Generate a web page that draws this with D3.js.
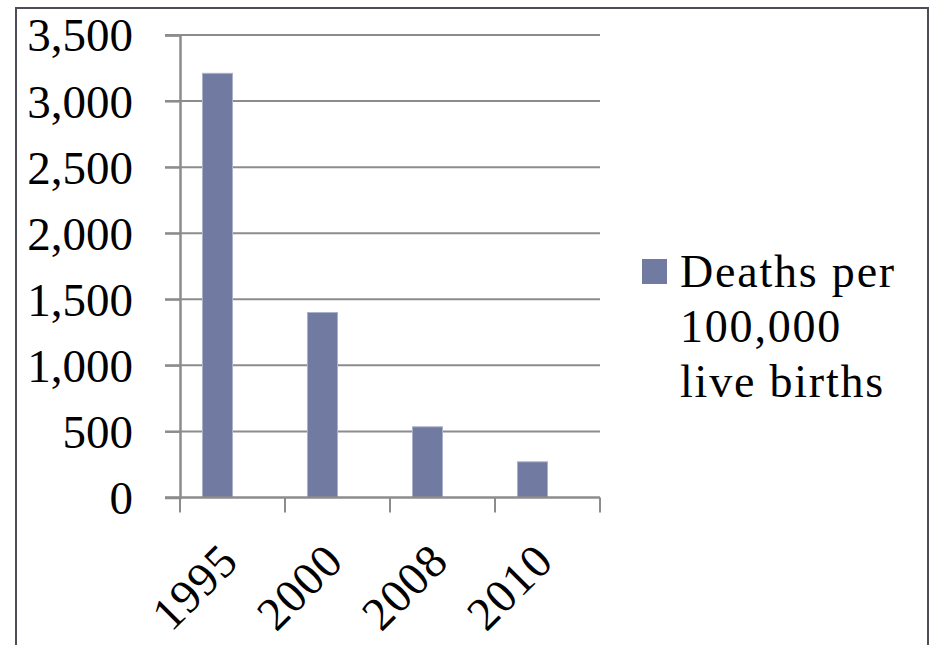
<!DOCTYPE html>
<html>
<head>
<meta charset="utf-8">
<script src="https://cdn.jsdelivr.net/npm/d3@7"></script>
<style>
  html, body { margin: 0; padding: 0; background: #ffffff; }
  svg { display: block; }
  text { font-family: "Liberation Serif", "DejaVu Serif", serif; fill: #000; }
</style>
</head>
<body>
<svg id="chart" width="930" height="645"></svg>
<script>
const categories = ["1995", "2000", "2008", "2010"];
const seriesName = ["Deaths per", "100,000", "live births"];
const values = [3210, 1400, 535, 270];
const yTicks = [0, 500, 1000, 1500, 2000, 2500, 3000, 3500];

const svg = d3.select("#chart");

// outer frame
svg.append("rect")
  .attr("x", 16).attr("y", 8)
  .attr("width", 912).attr("height", 700)
  .attr("fill", "#fff")
  .attr("stroke", "#4d4d57").attr("stroke-width", 2);

const plot = { left: 180, right: 600, top: 35, bottom: 497.5 };

const x = d3.scaleBand().domain(categories).range([plot.left, plot.right]).paddingInner(0).paddingOuter(0);
const y = d3.scaleLinear().domain([0, 3500]).range([plot.bottom, plot.top]);

// gridlines
svg.append("g").selectAll("line").data(yTicks.filter(d => d > 0)).join("line")
  .attr("x1", plot.left - 15).attr("x2", plot.right)
  .attr("y1", d => y(d)).attr("y2", d => y(d))
  .attr("stroke", "#8c8c8c").attr("stroke-width", 2);

// y axis
const yAxis = svg.append("g").attr("transform", `translate(${plot.left},0)`)
  .call(d3.axisLeft(y).tickValues(yTicks).tickFormat(d3.format(",")).tickSize(15).tickPadding(32));
yAxis.select(".domain").attr("stroke", "#8c8c8c").attr("stroke-width", 2.5);
yAxis.selectAll(".tick line").attr("stroke", "#8c8c8c").attr("stroke-width", 2);
yAxis.selectAll(".tick text").attr("font-size", 47).attr("font-family", "Liberation Serif").attr("fill", "#000").attr("dy", "0.34em");

// bars
const bw = x.bandwidth();
svg.append("g").selectAll("rect").data(categories).join("rect")
  .attr("x", (d) => x(d) + bw * 0.214)
  .attr("width", bw * 0.286)
  .attr("y", (d, i) => y(values[i]))
  .attr("height", (d, i) => y(0) - y(values[i]))
  .attr("fill", "#717ba2")
  .attr("stroke", "#aab1cb").attr("stroke-width", 1);

// x axis
const xAxis = svg.append("g").attr("transform", `translate(0,${plot.bottom})`)
  .call(d3.axisBottom(x).tickSize(0).tickPadding(0));
xAxis.select(".domain").remove();
xAxis.selectAll(".tick text")
  .attr("font-size", 47).attr("font-family", "Liberation Serif").attr("fill", "#000")
  .attr("letter-spacing", 1)
  .attr("text-anchor", "end")
  .attr("dy", null).attr("y", null)
  .attr("transform", "translate(8,66) rotate(-45)");
const edges = categories.map(c => x(c)).concat([plot.right]);
svg.append("g").selectAll("line").data(edges).join("line")
  .attr("x1", d => d).attr("x2", d => d)
  .attr("y1", plot.bottom).attr("y2", plot.bottom + 15)
  .attr("stroke", "#8c8c8c").attr("stroke-width", 2);
svg.append("line")
  .attr("x1", plot.left - 15).attr("x2", plot.right)
  .attr("y1", plot.bottom).attr("y2", plot.bottom)
  .attr("stroke", "#8c8c8c").attr("stroke-width", 2.5);

// legend
const lg = svg.append("g");
lg.append("rect").attr("x", 642).attr("y", 259).attr("width", 25).attr("height", 25).attr("fill", "#717ba2");
lg.append("text").attr("font-size", 46).attr("font-family", "Liberation Serif")
  .attr("letter-spacing", 1.8)
  .selectAll("tspan").data(seriesName).join("tspan")
  .attr("x", 680).attr("y", (d, i) => 287 + i * 55)
  .text(d => d);
</script>
</body>
</html>
